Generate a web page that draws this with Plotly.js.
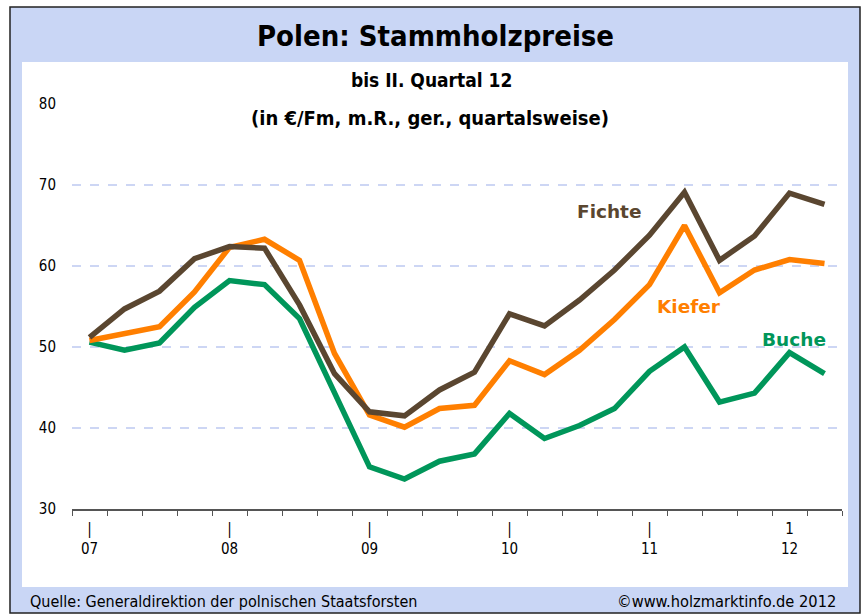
<!DOCTYPE html>
<html>
<head>
<meta charset="utf-8">
<script src="https://cdn.plot.ly/plotly-3.0.1.min.js"></script>
<style>html,body{margin:0;padding:0;background:#fff;}#chart{width:863px;height:615px;}</style>
</head>
<body>
<div id="chart"></div>
<script>
// Quarters 07 Q1 .. 12 Q2
const quarters = ["07 Q1","07 Q2","07 Q3","07 Q4","08 Q1","08 Q2","08 Q3","08 Q4","09 Q1","09 Q2","09 Q3","09 Q4","10 Q1","10 Q2","10 Q3","10 Q4","11 Q1","11 Q2","11 Q3","11 Q4","12 Q1","12 Q2"];
const fichte = [51.2,54.7,56.9,60.9,62.4,62.2,55.2,46.7,42.0,41.5,44.7,46.9,54.1,52.6,55.8,59.5,63.8,69.1,60.7,63.7,69.0,67.6];
const kiefer = [50.8,51.7,52.5,56.8,62.3,63.3,60.7,49.2,41.6,40.1,42.4,42.8,48.3,46.6,49.6,53.4,57.7,65.0,56.7,59.5,60.8,60.3];
const buche  = [50.6,49.6,50.5,54.9,58.2,57.7,53.5,44.4,35.2,33.7,35.9,36.8,41.8,38.7,40.3,42.4,47.0,50.0,43.2,44.3,49.3,46.7];
const yearTickIdx = [0,4,8,12,16,20];
const yearTickText = ["|<br>07","|<br>08","|<br>09","|<br>10","|<br>11","1<br>12"];
const yTicks = [30,40,50,60,70,80];

const idx = quarters.map((q,i)=>i);
const bounds = quarters.map((q,i)=>i-0.5).concat([quarters.length-0.5]);

const cF = '#5a4630', cK = '#ff7f00', cB = '#00965a';
const mk = (y,c,n)=>({x:idx,y:y,type:'scatter',mode:'lines',name:n,line:{color:c,width:5.5,shape:'linear'},hoverinfo:'x+y'});
const data = [mk(buche,cB,'Buche'), mk(kiefer,cK,'Kiefer'), mk(fichte,cF,'Fichte')];

const L=72, R=842, T=104, B=509;
const px=(x)=>(x-L)/(R-L), py=(y)=>(B-y)/(B-T);
const NARROW = '"DejaVu Sans Condensed","Liberation Sans Narrow","Liberation Sans",Arial,sans-serif';

const layout = {
  width:863, height:615,
  margin:{l:L, r:863-R, t:T, b:615-B, pad:0},
  paper_bgcolor:'#ffffff', plot_bgcolor:'rgba(0,0,0,0)',
  showlegend:false,
  font:{family:NARROW, color:'#000'},
  xaxis:{range:[-0.5, quarters.length-0.5], tickmode:'array', tickvals:yearTickIdx, ticktext:yearTickText,
    ticks:'', showgrid:false, zeroline:false, showline:true, linecolor:'#555', linewidth:2,
    tickfont:{size:15, color:'#000', family:NARROW}, ticklabelstandoff:5,
    minor:{tickmode:'array', tickvals:bounds, ticks:'outside', ticklen:5, tickwidth:1, tickcolor:'#555', showgrid:false}},
  yaxis:{range:[30,80], tickmode:'array', tickvals:yTicks, ticks:'', showline:false, zeroline:false,
    showgrid:true, gridcolor:'#cdd6f4', gridwidth:1.5, griddash:'dash',
    tickfont:{size:15, color:'#000', family:NARROW}, ticklabelstandoff:15},
  shapes:[
    {type:'rect', xref:'paper', yref:'paper', x0:px(10), x1:px(860), y0:py(613), y1:py(7), fillcolor:'#c9d6f5', line:{color:'#222', width:1.5}, layer:'below'},
    {type:'rect', xref:'paper', yref:'paper', x0:px(22), x1:px(848), y0:py(587), y1:py(62), fillcolor:'#ffffff', line:{width:0}, layer:'below'}
  ],
  annotations:[
    {text:'<b>Polen: Stammholzpreise</b>', xref:'paper', yref:'paper', x:px(435), y:py(36), showarrow:false, xanchor:'center', yanchor:'middle', font:{size:29, color:'#000', family:NARROW}},
    {text:'<b>bis II. Quartal 12</b>', xref:'paper', yref:'paper', x:px(431), y:py(80), showarrow:false, xanchor:'center', yanchor:'middle', font:{size:19, color:'#000', family:NARROW}},
    {text:'<b>(in €/Fm, m.R., ger., quartalsweise)</b>', xref:'paper', yref:'paper', x:px(430), y:py(118), showarrow:false, xanchor:'center', yanchor:'middle', font:{size:20, color:'#000', family:NARROW}},
    {text:'Quelle: Generaldirektion der polnischen Staatsforsten', xref:'paper', yref:'paper', x:px(28), y:py(601), showarrow:false, xanchor:'left', yanchor:'middle', font:{size:16, color:'#000', family:NARROW}},
    {text:'©www.holzmarktinfo.de 2012', xref:'paper', yref:'paper', x:px(838), y:py(601), showarrow:false, xanchor:'right', yanchor:'middle', font:{size:16.3, color:'#000', family:NARROW}},
    {text:'<b>Fichte</b>', x:14.87, y:66.75, xref:'x', yref:'y', showarrow:false, xanchor:'center', yanchor:'middle', font:{size:18.5, color:cF, family:'"DejaVu Sans",Verdana,sans-serif'}},
    {text:'<b>Kiefer</b>', x:17.13, y:55.0, xref:'x', yref:'y', showarrow:false, xanchor:'center', yanchor:'middle', font:{size:18.5, color:cK, family:'"DejaVu Sans",Verdana,sans-serif'}},
    {text:'<b>Buche</b>', x:20.13, y:50.9, xref:'x', yref:'y', showarrow:false, xanchor:'center', yanchor:'middle', font:{size:18.5, color:cB, family:'"DejaVu Sans",Verdana,sans-serif'}}
  ]
};
Plotly.newPlot('chart', data, layout, {staticPlot:true, displayModeBar:false});
</script>
</body>
</html>
